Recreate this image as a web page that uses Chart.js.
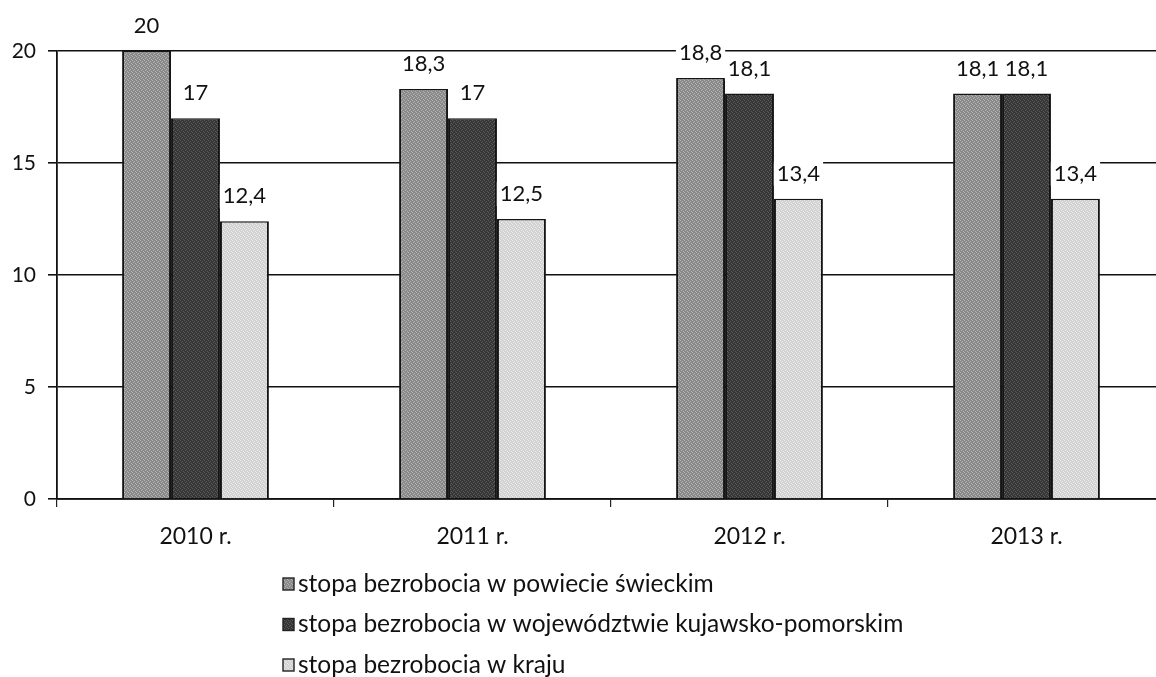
<!DOCTYPE html>
<html>
<head>
<meta charset="utf-8">
<script src="https://cdn.jsdelivr.net/npm/chart.js@4"></script>
<style>
    html, body { margin: 0; padding: 0; background: #fff; overflow: hidden; }
    canvas { display: block; }
</style>
</head>
<body>
<canvas id="stopaChart" width="1165" height="677"></canvas>
<script>
// Dane
const lata = ['2010 r.', '2011 r.', '2012 r.', '2013 r.'];
const powiat = [20, 18.3, 18.8, 18.1];
const wojewodztwo = [17, 17, 18.1, 18.1];
const kraj = [12.4, 12.5, 13.4, 13.4];
const yTicks = [0, 5, 10, 15, 20];
const etykiety = [
    'stopa bezrobocia w powiecie świeckim',
    'stopa bezrobocia w województwie kujawsko-pomorskim',
    'stopa bezrobocia w kraju'
];

const fontFamily = "Lato, 'Liberation Sans', sans-serif";

// Drobny raster imitujący skan (dwa odcienie szarości)
function raster(base, spot) {
    const c = document.createElement('canvas');
    c.width = 4;
    c.height = 4;
    const g = c.getContext('2d');
    g.fillStyle = base;
    g.fillRect(0, 0, 4, 4);
    g.fillStyle = spot;
    g.fillRect(0, 0, 1, 1);
    g.fillRect(2, 1, 1, 1);
    g.fillRect(1, 2, 1, 1);
    g.fillRect(3, 3, 1, 1);
    return g.createPattern(c, 'repeat');
}

const kolory = [
    raster('#8a8a8a', '#b4b4b4'),
    raster('#363636', '#5c5c5c'),
    raster('#d2d2d2', '#ececec')
];

// Etykiety wartości nad słupkami (z białym tłem, przerywają linie siatki)
const valueLabels = {
    id: 'valueLabels',
    afterDatasetsDraw(chart) {
        const ctx = chart.ctx;
        ctx.save();
        ctx.font = '22px ' + fontFamily;
        ctx.textAlign = 'center';
        ctx.textBaseline = 'middle';
        chart.data.datasets.forEach((ds, i) => {
            chart.getDatasetMeta(i).data.forEach((bar, j) => {
                const txt = String(ds.data[j]).replace('.', ',');
                const w = ctx.measureText(txt).width;
                const y = bar.y - 25;
                ctx.fillStyle = '#fff';
                ctx.fillRect(bar.x - w / 2 - 3, y - 12, w + 6, 24);
                ctx.fillStyle = '#111';
                ctx.fillText(txt, bar.x, y);
            });
        });
        ctx.restore();
    }
};

// Legenda pod wykresem, jedna pozycja w wierszu
const legendaPionowa = {
    id: 'legendaPionowa',
    afterDraw(chart) {
        const ctx = chart.ctx;
        ctx.save();
        ctx.font = '24.5px ' + fontFamily;
        ctx.textAlign = 'left';
        ctx.textBaseline = 'middle';
        chart.data.datasets.forEach((ds, i) => {
            const y = 584 + i * 40.5;
            ctx.fillStyle = ds.backgroundColor;
            ctx.fillRect(283, y - 6, 11, 12);
            ctx.strokeStyle = '#222';
            ctx.lineWidth = 1.4;
            ctx.strokeRect(283, y - 6, 11, 12);
            ctx.fillStyle = '#111';
            ctx.fillText(ds.label, 298, y);
        });
        ctx.restore();
    }
};

const ctx = document.getElementById('stopaChart').getContext('2d');
const stopaChart = new Chart(ctx, {
    type: 'bar',
    data: {
        labels: lata,
        datasets: [
            { label: etykiety[0], data: powiat, backgroundColor: kolory[0] },
            { label: etykiety[1], data: wojewodztwo, backgroundColor: kolory[1] },
            { label: etykiety[2], data: kraj, backgroundColor: kolory[2] }
        ].map(ds => Object.assign(ds, {
            borderColor: '#151515',
            borderWidth: { left: 2, right: 2, top: 1.5, bottom: 0 },
            borderSkipped: 'bottom',
            categoryPercentage: 0.53,
            barPercentage: 1
        }))
    },
    options: {
        responsive: false,
        animation: false,
        devicePixelRatio: 1,
        layout: {
            padding: { top: 51, right: 0, bottom: 120, left: 0 }
        },
        plugins: {
            legend: { display: false },
            tooltip: { enabled: false }
        },
        scales: {
            x: {
                grid: {
                    drawOnChartArea: false,
                    drawTicks: true,
                    tickLength: 8,
                    color: '#222',
                    lineWidth: 1.2
                },
                border: { display: true, color: '#111', width: 1.8 },
                ticks: {
                    color: '#111',
                    font: { family: fontFamily, size: 23 },
                    padding: 16
                },
                afterFit(scale) { scale.height = 58; }
            },
            y: {
                min: 0,
                max: 20,
                afterBuildTicks(scale) {
                    scale.ticks = yTicks.map(v => ({ value: v }));
                },
                grid: {
                    color: '#111',
                    lineWidth: 1.6,
                    drawTicks: true,
                    tickLength: 9
                },
                border: { display: true, color: '#111', width: 1.8 },
                ticks: {
                    color: '#111',
                    font: { family: fontFamily, size: 21 },
                    padding: 12
                },
                afterFit(scale) { scale.width = 57; }
            }
        }
    },
    plugins: [valueLabels, legendaPionowa]
});
</script>
</body>
</html>
